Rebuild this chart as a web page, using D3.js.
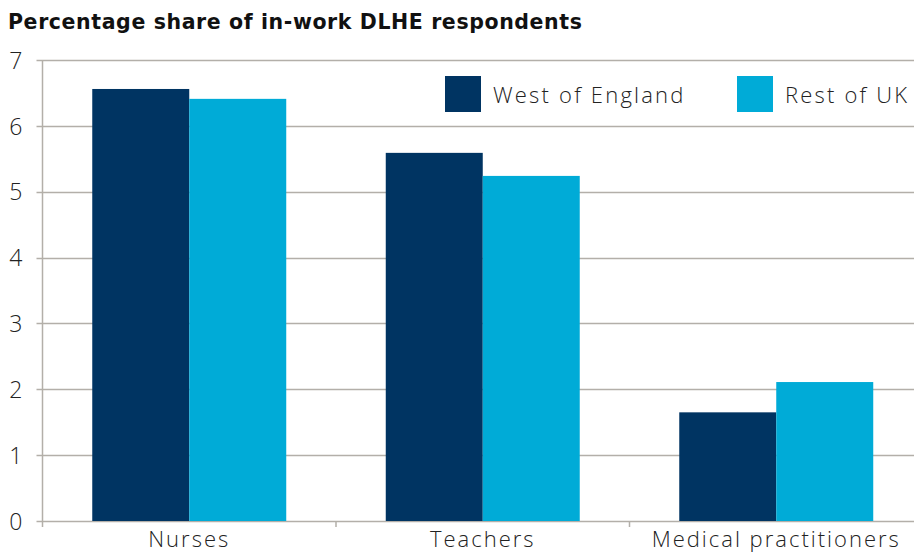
<!DOCTYPE html>
<html>
<head>
<meta charset="utf-8">
<script src="https://cdn.jsdelivr.net/npm/d3@7"></script>
<style>
  body { margin: 0; background: #fff; }
  text { font-family: "Open Sans", Lato, sans-serif; }
</style>
</head>
<body>
<div id="chart"></div>
<script>
// chart data
const categories = ["Nurses", "Teachers", "Medical practitioners"];
const seriesNames = ["West of England", "Rest of UK"];
const westOfEngland = [6.56, 5.59, 1.65];
const restOfUK = [6.41, 5.24, 2.11];
const yTicks = [0, 1, 2, 3, 4, 5, 6, 7];
const colors = ["#003462", "#00abd7"];

const width = 914, height = 556;
const margin = {top: 60, right: -9, bottom: 35, left: 42.5};

const svg = d3.select("#chart").append("svg")
    .attr("width", width)
    .attr("height", height);

const x0 = d3.scaleBand()
  .domain(categories)
  .range([margin.left, width - margin.right])
  .paddingInner(0)
  .paddingOuter(0);

const x1 = d3.scaleBand()
  .domain(seriesNames)
  .range([0, x0.bandwidth()])
  .paddingOuter(0.513)
  .paddingInner(0);

const y = d3.scaleLinear()
  .domain([0, 7])
  .range([height - margin.bottom, margin.top]);

// gridlines
svg.append("g")
  .selectAll("line")
  .data(yTicks)
  .join("line")
    .attr("x1", margin.left - 6)
    .attr("x2", width)
    .attr("y1", d => Math.round(y(d)) + 0.5)
    .attr("y2", d => Math.round(y(d)) + 0.5)
    .attr("stroke", "#b3afa9")
    .attr("stroke-width", 1.5);

// y axis
const yAxis = svg.append("g")
  .attr("transform", `translate(${margin.left},0)`)
  .call(d3.axisLeft(y).tickValues(yTicks).tickFormat(d3.format("d")).tickSize(6).tickPadding(14));
yAxis.select(".domain").remove();
yAxis.selectAll(".tick line").remove();
yAxis.selectAll("text")
  .attr("fill", "#222")
  .attr("dy", "0.36em")
  .style("font-size", "23px")
  .style("font-weight", 300);

svg.append("line")
  .attr("x1", margin.left).attr("x2", margin.left)
  .attr("y1", margin.top).attr("y2", y(0) + 6)
  .attr("stroke", "#b3afa9")
  .attr("stroke-width", 1.5);

// bars
const data = categories.map((c, i) => ({
  category: c,
  values: [westOfEngland[i], restOfUK[i]]
}));

svg.append("g")
  .selectAll("g")
  .data(data)
  .join("g")
    .attr("transform", d => `translate(${x0(d.category)},0)`)
  .selectAll("rect")
  .data(d => d.values.map((v, j) => ({key: seriesNames[j], value: v, j: j})))
  .join("rect")
    .attr("x", d => x1(d.key))
    .attr("width", x1.bandwidth())
    .attr("y", d => y(d.value))
    .attr("height", d => y(0) - y(d.value))
    .attr("fill", d => colors[d.j]);

// x axis
const xAxis = svg.append("g")
  .attr("transform", `translate(0,${y(0)})`)
  .call(d3.axisBottom(x0).tickSize(0).tickPadding(10));
xAxis.select(".domain").remove();
xAxis.selectAll("text")
  .attr("fill", "#222")
  .style("font-size", "22px")
  .style("font-weight", 300)
  .style("letter-spacing", "2px");

// category boundary ticks
svg.append("g")
  .selectAll("line")
  .data(categories.slice(1))
  .join("line")
    .attr("x1", d => x0(d)).attr("x2", d => x0(d))
    .attr("y1", y(0)).attr("y2", y(0) + 6)
    .attr("stroke", "#b3afa9")
    .attr("stroke-width", 1.5);

// legend
const legendPos = [445, 737];
const legend = svg.append("g")
  .selectAll("g")
  .data(seriesNames)
  .join("g")
    .attr("transform", (d, i) => `translate(${legendPos[i]},76)`);
legend.append("rect")
  .attr("width", 36)
  .attr("height", 36)
  .attr("fill", (d, i) => colors[i]);
legend.append("text")
  .attr("x", 48)
  .attr("y", 27)
  .attr("fill", "#222")
  .style("font-size", "22px")
  .style("font-weight", 300)
  .style("letter-spacing", "2.2px")
  .text(d => d);

// title
svg.append("text")
  .attr("x", 8)
  .attr("y", 29)
  .attr("fill", "#111")
  .style("font-family", "'DejaVu Sans', sans-serif")
  .style("font-size", "20.5px")
  .style("font-weight", "bold")
  .style("letter-spacing", "0.6px")
  .text("Percentage share of in-work DLHE respondents");
</script>
</body>
</html>
